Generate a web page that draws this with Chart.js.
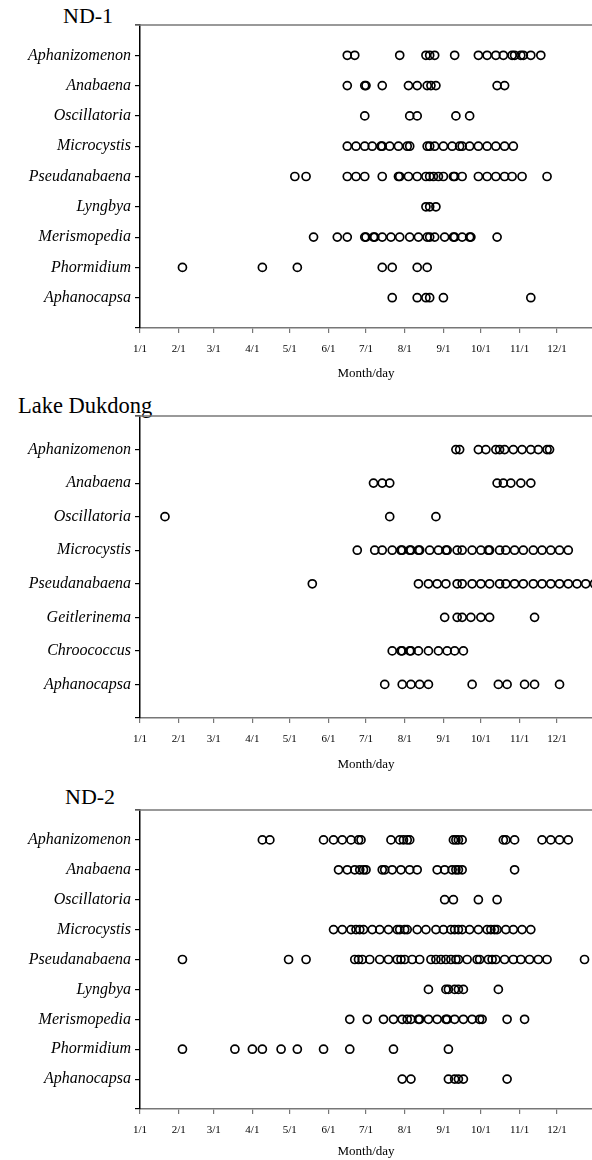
<!DOCTYPE html>
<html>
<head>
<meta charset="utf-8">
<script src="https://cdn.jsdelivr.net/npm/chart.js@4.4.1/dist/chart.umd.min.js"></script>
<style>
  body { margin: 0; width: 592px; height: 1160px; position: relative; background: #fff; overflow: hidden; }
  canvas { position: absolute; left: 0; }
  .title { position: absolute; font-family: "Liberation Serif", serif; font-size: 22px; color: #000; line-height: 22px; white-space: nowrap; }
</style>
</head>
<body>
<div class="title" style="left:63px;top:5px">ND-1</div>
<div class="title" style="left:18px;top:395px;font-size:22.5px">Lake Dukdong</div>
<div class="title" style="left:65px;top:786px">ND-2</div>
<canvas id="nd1"></canvas>
<canvas id="lake"></canvas>
<canvas id="nd2"></canvas>
<script>
// day of year (0 = Jan 1) for each observation
const monthDays = [0, 31, 59, 90, 120, 151, 181, 212, 243, 273, 304, 334];
const monthLabels = ["1/1", "2/1", "3/1", "4/1", "5/1", "6/1", "7/1", "8/1", "9/1", "10/1", "11/1", "12/1"];

// ND-1
const nd1Categories = ["Aphanizomenon", "Anabaena", "Oscillatoria", "Microcystis", "Pseudanabaena", "Lyngbya", "Merismopedia", "Phormidium", "Aphanocapsa"];
const nd1Aphanizomenon = [166, 172, 208, 229, 232, 236, 252, 271, 278, 285, 291, 298, 300, 305, 307, 313, 321];
const nd1Anabaena = [166, 180, 181, 194, 215, 222, 230, 233, 237, 286, 292];
const nd1Oscillatoria = [180, 216, 222, 253, 264];
const nd1Microcystis = [166, 173, 180, 186, 193, 194, 200, 207, 214, 216, 230, 232, 236, 243, 250, 256, 258, 264, 271, 278, 285, 292, 299];
const nd1Pseudanabaena = [124, 133, 166, 173, 180, 194, 207, 208, 215, 222, 229, 232, 235, 239, 243, 251, 252, 258, 271, 278, 285, 292, 298, 306, 326];
const nd1Lyngbya = [229, 232, 237];
const nd1Merismopedia = [139, 158, 166, 180, 181, 187, 188, 194, 201, 208, 216, 223, 230, 232, 236, 244, 251, 252, 258, 264, 265, 286];
const nd1Phormidium = [34, 98, 126, 194, 202, 222, 230];
const nd1Aphanocapsa = [202, 222, 229, 232, 243, 313];

// Lake Dukdong
const lakeCategories = ["Aphanizomenon", "Anabaena", "Oscillatoria", "Microcystis", "Pseudanabaena", "Geitlerinema", "Chroococcus", "Aphanocapsa"];
const lakeAphanizomenon = [253, 256, 271, 277, 285, 288, 292, 299, 306, 313, 319, 326, 328];
const lakeAnabaena = [187, 194, 200, 286, 291, 297, 305, 313];
const lakeOscillatoria = [20, 200, 237];
const lakeMicrocystis = [174, 188, 194, 202, 209, 210, 216, 217, 223, 224, 232, 239, 245, 246, 254, 258, 266, 273, 279, 280, 288, 293, 300, 307, 315, 322, 329, 336, 343];
const lakePseudanabaena = [138, 223, 231, 238, 245, 254, 258, 266, 273, 280, 288, 293, 300, 307, 315, 322, 329, 336, 343, 350, 357, 364];
const lakeGeitlerinema = [244, 254, 258, 265, 273, 280, 316];
const lakeChroococcus = [202, 209, 210, 216, 217, 223, 231, 239, 246, 252, 259];
const lakeAphanocapsa = [196, 210, 217, 224, 231, 266, 287, 294, 308, 316, 336];

// ND-2
const nd2Categories = ["Aphanizomenon", "Anabaena", "Oscillatoria", "Microcystis", "Pseudanabaena", "Lyngbya", "Merismopedia", "Phormidium", "Aphanocapsa"];
const nd2Aphanizomenon = [98, 104, 147, 155, 162, 169, 175, 177, 201, 208, 211, 214, 216, 251, 253, 255, 258, 291, 293, 300, 322, 329, 336, 343];
const nd2Anabaena = [159, 166, 172, 176, 179, 181, 194, 196, 202, 209, 216, 222, 238, 244, 250, 253, 255, 258, 300];
const nd2Oscillatoria = [244, 251, 271, 286];
const nd2Microcystis = [155, 162, 169, 173, 176, 179, 186, 192, 199, 206, 208, 212, 214, 222, 229, 237, 243, 249, 252, 255, 258, 264, 271, 278, 281, 284, 286, 293, 299, 306, 313];
const nd2Pseudanabaena = [34, 119, 133, 172, 175, 178, 184, 192, 199, 206, 209, 212, 218, 224, 233, 237, 241, 245, 249, 253, 255, 262, 270, 272, 279, 282, 285, 292, 299, 305, 312, 319, 326, 356];
const nd2Lyngbya = [231, 245, 247, 252, 255, 259, 287];
const nd2Merismopedia = [168, 182, 195, 203, 210, 214, 217, 223, 224, 231, 238, 245, 246, 252, 259, 266, 272, 274, 294, 308];
const nd2Phormidium = [34, 76, 90, 98, 113, 126, 147, 168, 203, 247];
const nd2Aphanocapsa = [210, 217, 247, 252, 255, 259, 294];

const serif = "'Liberation Serif', 'DejaVu Serif', serif";

// thin grey line along the top of the plot area
const topBorder = {
  id: "topBorder",
  afterDraw(chart) {
    const { ctx, chartArea } = chart;
    ctx.save();
    ctx.strokeStyle = "#777";
    ctx.lineWidth = 1.5;
    ctx.beginPath();
    ctx.moveTo(chartArea.left - 5, chartArea.top);
    ctx.lineTo(chartArea.right, chartArea.top);
    ctx.stroke();
    ctx.restore();
  }
};

function makePanel(id, top, height, plotTop, plotBottom, titlePad, categories, series) {
  const canvas = document.getElementById(id);
  canvas.style.top = top + "px";
  canvas.style.width = "592px";
  canvas.style.height = height + "px";
  canvas.width = 592;
  canvas.height = height;
  const n = categories.length;

  const datasets = series.map((days, i) => ({
    label: categories[i],
    data: days.map(d => ({ x: d, y: n - i })),
    pointRadius: 4,
    pointBorderWidth: 1.7,
    pointBorderColor: "#000",
    pointBackgroundColor: "rgba(0,0,0,0)",
    pointHoverRadius: 4,
    clip: false
  }));

  return new Chart(canvas, {
    type: "scatter",
    data: { datasets },
    options: {
      responsive: false,
      animation: false,
      events: [],
      layout: { autoPadding: false, padding: { top: plotTop - top, left: 0, right: 0, bottom: 0 } },
      plugins: { legend: { display: false }, tooltip: { enabled: false } },
      scales: {
        x: {
          type: "linear",
          min: 0,
          max: 362,
          afterBuildTicks(scale) {
            scale.ticks = monthDays.map(v => ({ value: v }));
          },
          afterFit(scale) {
            scale.height = top + height - plotBottom;
          },
          ticks: {
            autoSkip: false,
            maxRotation: 0,
            padding: 10,
            color: "#000",
            font: { family: serif, size: 11 },
            callback: (v, i) => monthLabels[i]
          },
          grid: { drawOnChartArea: false, tickLength: 5, color: "#777", lineWidth: 1.2 },
          border: { color: "#777", width: 1.5 },
          title: {
            display: true,
            text: "Month/day",
            color: "#000",
            font: { family: serif, size: 13 },
            padding: { top: 0, bottom: titlePad }
          }
        },
        y: {
          type: "linear",
          min: 0,
          max: n + 1,
          afterBuildTicks(scale) {
            const t = [];
            for (let v = 0; v <= n + 1; v++) t.push({ value: v });
            scale.ticks = t;
          },
          afterFit(scale) {
            scale.width = 140;
          },
          ticks: {
            autoSkip: false,
            padding: 4,
            color: "#000",
            font: { family: serif, size: 16, style: "italic" },
            callback: v => (v >= 1 && v <= n ? categories[n - v] : "")
          },
          grid: { drawOnChartArea: false, tickLength: 5, color: "#000", lineWidth: 1.2 },
          border: { color: "#000", width: 1.5 }
        }
      }
    },
    plugins: [topBorder]
  });
}

makePanel("nd1", 0, 388, 25, 328, 7, nd1Categories,
  [nd1Aphanizomenon, nd1Anabaena, nd1Oscillatoria, nd1Microcystis, nd1Pseudanabaena, nd1Lyngbya, nd1Merismopedia, nd1Phormidium, nd1Aphanocapsa]);

makePanel("lake", 388, 390, 416, 718, 6, lakeCategories,
  [lakeAphanizomenon, lakeAnabaena, lakeOscillatoria, lakeMicrocystis, lakePseudanabaena, lakeGeitlerinema, lakeChroococcus, lakeAphanocapsa]);

makePanel("nd2", 778, 382, 810, 1109, 1, nd2Categories,
  [nd2Aphanizomenon, nd2Anabaena, nd2Oscillatoria, nd2Microcystis, nd2Pseudanabaena, nd2Lyngbya, nd2Merismopedia, nd2Phormidium, nd2Aphanocapsa]);
</script>
</body>
</html>
